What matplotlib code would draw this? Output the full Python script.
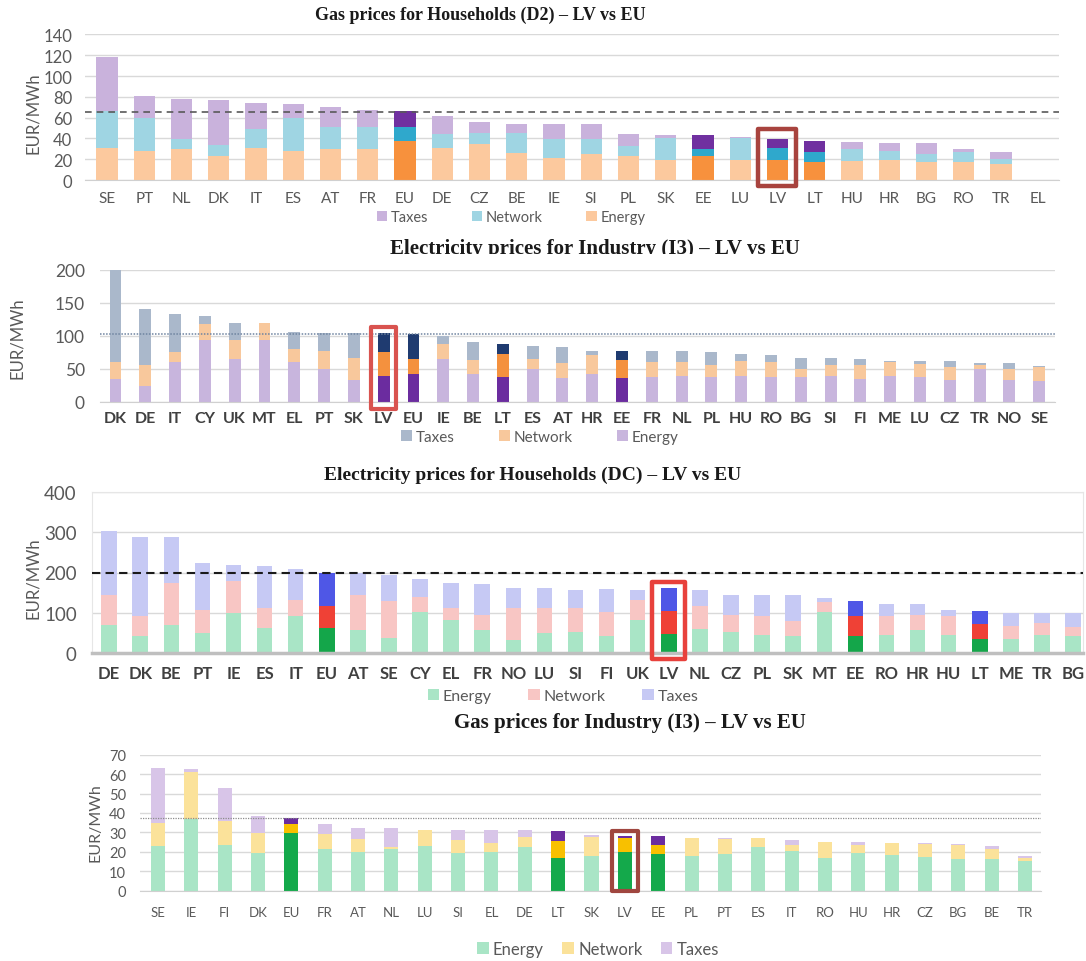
import matplotlib.pyplot as plt
from matplotlib.patches import Patch, Rectangle

W, H = 1086, 962

# ---- Gas prices for households (D2)
gas_hh_countries = ["SE", "PT", "NL", "DK", "IT", "ES", "AT", "FR", "EU", "DE", "CZ", "BE", "IE",
                    "SI", "PL", "SK", "EE", "LU", "LV", "LT", "HU", "HR", "BG", "RO", "TR", "EL"]
gas_hh_energy = [30.5, 28, 30, 23, 30.5, 27.5, 30, 30, 37.5, 30.5, 35, 26, 21,
                 25, 23, 19, 23, 19.5, 19.5, 17, 18.5, 19, 17.5, 17, 15.5, 0]
gas_hh_network = [35.5, 32, 9, 11, 18.5, 32.5, 21, 21, 13.5, 13.5, 10, 19.5, 18,
                  14, 10, 21, 7, 21, 11, 9.5, 11, 9, 7.5, 10, 4.5, 0]
gas_hh_taxes = [52, 20.5, 39, 43, 25, 13, 19, 16.5, 15, 17.5, 11, 8.5, 15,
                15, 11, 3, 13, 0.5, 9, 11, 7, 8, 10.5, 3, 6.5, 0]
gas_hh_eu_avg = 65

# ---- Electricity prices for industry (I3)
el_ind_countries = ["DK", "DE", "IT", "CY", "UK", "MT", "EL", "PT", "SK", "LV", "EU", "IE", "BE",
                    "LT", "ES", "AT", "HR", "EE", "FR", "NL", "PL", "HU", "RO", "BG", "SI", "FI",
                    "ME", "LU", "CZ", "TR", "NO", "SE"]
el_ind_energy = [34, 24, 60, 93, 65, 93, 60, 49.5, 33, 39, 42, 65, 42,
                 37, 50, 36, 42, 36, 38, 39, 37, 39, 38, 37, 39, 34,
                 39, 38, 33, 49.5, 33, 32]
el_ind_network = [26, 32, 15, 25, 28, 26, 20, 27.5, 33, 36, 23, 22, 21,
                  35, 15, 22, 29, 27, 22, 21, 19, 22, 22, 13, 16, 22,
                  21, 19, 19, 6, 17, 20]
el_ind_taxes = [140, 84, 58, 12, 26, 0, 26, 27, 38, 28.5, 37, 13, 27,
                15, 20, 25, 6, 14, 17, 17, 19, 11, 10.5, 16, 11, 8,
                2, 5, 10, 3, 8, 1.5]
el_ind_eu_avg = 102

# ---- Electricity prices for households (DC)
el_hh_countries = ["DE", "DK", "BE", "PT", "IE", "ES", "IT", "EU", "AT", "SE", "CY", "EL", "FR",
                   "NO", "LU", "SI", "FI", "UK", "LV", "NL", "CZ", "PL", "SK", "MT", "EE", "RO",
                   "HR", "HU", "LT", "ME", "TR", "BG"]
el_hh_energy = [70, 41, 70, 50, 99, 62, 91, 62, 58, 37, 103, 83, 58,
                33, 50, 51, 41, 81, 47, 59.5, 51, 45.5, 41, 101, 43, 45.5,
                56, 45.5, 35, 35, 45.5, 42]
el_hh_network = [75, 50, 104, 57, 79, 50, 41, 54, 87, 91, 37, 29, 37,
                 79, 62, 61, 62, 51, 58, 57.5, 44, 45.5, 38, 25, 50, 45.5,
                 39, 45.5, 37, 33, 28.5, 22]
el_hh_taxes = [157, 197, 114, 116, 41, 105, 76, 84, 53, 66, 43, 63, 77,
               49, 49, 45, 56, 25, 55.5, 39, 48, 52, 64, 10, 37, 30,
               26, 16, 33, 31, 25, 36]
el_hh_eu_avg = 200

# ---- Gas prices for industry (I3)
gas_ind_countries = ["SE", "IE", "FI", "DK", "EU", "FR", "AT", "NL", "LU", "SI", "EL", "DE", "LT",
                     "SK", "LV", "EE", "PL", "PT", "ES", "IT", "RO", "HU", "HR", "CZ", "BG", "BE", "TR"]
gas_ind_energy = [23, 37, 23.5, 19.5, 29.5, 21.5, 20, 21.5, 23, 19.5, 20, 22.5, 17,
                  18, 20, 19, 18, 19, 22.5, 20.5, 17, 19.5, 18.5, 17.5, 16.5, 16.5, 15.5]
gas_ind_network = [12, 24, 12.5, 10, 5, 7.5, 6.5, 1, 8.5, 6.5, 4.5, 5, 8.5,
                   9.5, 7, 4.5, 9, 7.5, 4.5, 3, 8, 4, 6, 6.5, 7, 5, 1.5]
gas_ind_taxes = [28, 1.6, 17, 9, 3, 5.5, 6, 10, 0, 5, 6.5, 3.5, 5,
                 1, 1, 4.5, 0, 0.5, 0.3, 2.5, 0.3, 1.5, 0.3, 0.3, 0.3, 1.5, 1]
gas_ind_eu_avg = 37.3

fig = plt.figure(figsize=(W / 100, H / 100), dpi=100)
fig.patch.set_facecolor("white")


def px_axes(left, top, right, bottom):
    return fig.add_axes([left / W, 1 - bottom / H, (right - left) / W, (bottom - top) / H])


def stacked(ax, countries, layers, width, highlight):
    # layers: list of (values, light colour, dark colour), bottom first
    x = range(len(countries))
    bottom = [0.0] * len(countries)
    for vals, light, dark in layers:
        cols = [dark if c in highlight else light for c in countries]
        ax.bar(x, vals, width, bottom=bottom, color=cols, zorder=2)
        bottom = [b + v for b, v in zip(bottom, vals)]
    return bottom


def style(ax, countries, yticks, ylim, xlim, xfont, yfont, xpad, ypad, xcolor, xweight):
    ax.set_xlim(*xlim)
    ax.set_ylim(*ylim)
    ax.set_yticks(yticks)
    ax.set_xticks(range(len(countries)))
    ax.set_xticklabels(countries, family="Lato", fontsize=xfont, color=xcolor, fontweight=xweight)
    for lab in ax.get_yticklabels():
        lab.set_family("Lato")
        lab.set_fontsize(yfont)
        lab.set_color("#595959")
    ax.tick_params(axis="x", length=0, pad=xpad)
    ax.tick_params(axis="y", length=0, pad=ypad)
    ax.yaxis.grid(True, color="#d9d9d9", lw=1, zorder=0)
    ax.set_axisbelow(True)
    for s in ["left", "right", "top"]:
        ax.spines[s].set_visible(False)
    ax.spines["bottom"].set_color("#d0d0d0")


def outline(ax, idx, top, bottom, half, color, lw):
    r = Rectangle((idx - half, bottom), 2 * half, top - bottom, fill=False,
                  edgecolor=color, lw=lw, joinstyle="round", zorder=5, clip_on=False)
    ax.add_patch(r)


def legend(ax, items, cx, cy, size, colsp):
    handles = [Patch(facecolor=c, edgecolor="none", label=l) for l, c in items]
    ax.legend(handles=handles, loc="center", bbox_to_anchor=(cx / W, 1 - cy / H),
              bbox_transform=fig.transFigure, ncol=len(items), frameon=False,
              handlelength=0.7, handleheight=0.7, handletextpad=0.25, columnspacing=colsp,
              prop={"family": "Lato", "size": size}, labelcolor="#595959")


def title(text, cx, cy, size):
    return fig.text(cx / W, 1 - cy / H, text, ha="center", va="center",
                    family="Liberation Serif", fontweight="bold", fontsize=size, color="#1a1a1a")


def ylabel(cx, cy, size):
    fig.text(cx / W, 1 - cy / H, "EUR/MWh", ha="center", va="center", rotation=90,
             family="Lato", fontsize=size, color="#595959")


# ---------------- panel 1
ax1 = px_axes(85, 35.4, 1059, 181)
hl1 = ["EU", "EE", "LV", "LT"]
tot1 = stacked(ax1, gas_hh_countries,
               [(gas_hh_energy, "#fcc99e", "#f7913d"),
                (gas_hh_network, "#9fd5e3", "#2fa8cc"),
                (gas_hh_taxes, "#c9b2dc", "#7030a0")], 0.57, hl1)
style(ax1, gas_hh_countries, range(0, 141, 20), (0, 140), (-0.59, 25.56), 11, 12, 8, 9,
      "#595959", "normal")
ax1.axhline(gas_hh_eu_avg, color="#595959", lw=1.2, ls=(0, (4, 3)), zorder=3)
i = gas_hh_countries.index("LV")
outline(ax1, i, tot1[i] + 10, -5.5, 0.51, "#a8433e", 3.2)
legend(ax1, [("Taxes", "#c9b2dc"), ("Network", "#9fd5e3"), ("Energy", "#fcc99e")], 511, 218, 10.5, 3.0)
title("Gas prices for Households (D2) \u2013 LV vs EU", 480, 15, 13)
ylabel(33, 113, 12)

# ---------------- panel 2
ax2 = px_axes(100, 270.7, 1055, 402.7)
hl2 = ["LV", "EU", "LT", "EE"]
tot2 = stacked(ax2, el_ind_countries,
               [(el_ind_energy, "#c8b5dd", "#6b2c9f"),
                (el_ind_network, "#f8c89c", "#f4913e"),
                (el_ind_taxes, "#aab8cb", "#1f3b70")], 0.4, hl2)
style(ax2, el_ind_countries, range(0, 201, 50), (0, 200), (-0.52, 31.53), 11.5, 12.5, 7, 11,
      "#404040", "bold")
ax2.axhline(el_ind_eu_avg, color="#6f84a0", lw=1.1, ls=(0, (1, 1)), zorder=3)
i = el_ind_countries.index("LV")
outline(ax2, i, tot2[i] + 10, -11, 0.42, "#d9534f", 3)
legend(ax2, [("Taxes", "#aab8cb"), ("Network", "#f8c89c"), ("Energy", "#c8b5dd")], 540, 438, 11, 2.9)
t2 = title("Electricity prices for Industry (I3) \u2013 LV vs EU", 595, 249, 15)
t2.set_clip_path(Rectangle((0, 1 - 255 / H), 1, 30 / H, transform=fig.transFigure))
ylabel(17, 338, 12)

# ---------------- panel 3
ax3 = px_axes(92, 493, 1083, 654)
hl3 = ["EU", "LV", "EE", "LT"]
tot3 = stacked(ax3, el_hh_countries,
               [(el_hh_energy, "#a9e5c6", "#14a64a"),
                (el_hh_network, "#f8c6c4", "#ef4136"),
                (el_hh_taxes, "#c6c9f4", "#4f57e6")], 0.5, hl3)
style(ax3, el_hh_countries, range(0, 401, 100), (0, 400), (-0.55, 31.32), 12, 13.5, 9, 11,
      "#404040", "bold")
for s in ["left", "right", "top"]:
    ax3.spines[s].set_visible(True)
    ax3.spines[s].set_color("#e6e6e6")
    ax3.spines[s].set_linewidth(0.8)
ax3.spines["bottom"].set_color("#bfbfbf")
ax3.spines["bottom"].set_linewidth(2.5)
ax3.axhline(el_hh_eu_avg, color="#1a1a1a", lw=1.5, ls=(0, (4, 2.5)), zorder=3)
i = el_hh_countries.index("LV")
outline(ax3, i, tot3[i] + 16, -15, 0.53, "#e8413c", 3.2)
legend(ax3, [("Energy", "#a9e5c6"), ("Network", "#f8c6c4"), ("Taxes", "#c6c9f4")], 563, 697, 11.5, 2.3)
title("Electricity prices for Households (DC) \u2013 LV vs EU", 533, 475, 14)
ylabel(33, 578, 12)

# ---------------- panel 4
ax4 = px_axes(140, 755.7, 1041, 891.7)
hl4 = ["EU", "LT", "LV", "EE"]
tot4 = stacked(ax4, gas_ind_countries,
               [(gas_ind_energy, "#a9e5c6", "#14a94b"),
                (gas_ind_network, "#fbe29a", "#f8c000"),
                (gas_ind_taxes, "#d8c5e8", "#6b2c9f")], 0.42, hl4)
style(ax4, gas_ind_countries, range(0, 71, 10), (0, 70), (-0.54, 26.48), 9.5, 10.5, 11, 10,
      "#595959", "normal")
ax4.axhline(gas_ind_eu_avg, color="#8c8c8c", lw=0.9, ls=(0, (1, 1)), zorder=3)
i = gas_ind_countries.index("LV")
outline(ax4, i, tot4[i] + 2.8, 0, 0.4, "#a0463f", 3)
legend(ax4, [("Energy", "#a9e5c6"), ("Network", "#fbe29a"), ("Taxes", "#d8c5e8")], 598, 950, 12, 1.1)
title("Gas prices for Industry (I3) \u2013 LV vs EU", 630, 723, 15)
ylabel(96, 823, 11.5)

fig.savefig("out.png", dpi=100, facecolor="white")
